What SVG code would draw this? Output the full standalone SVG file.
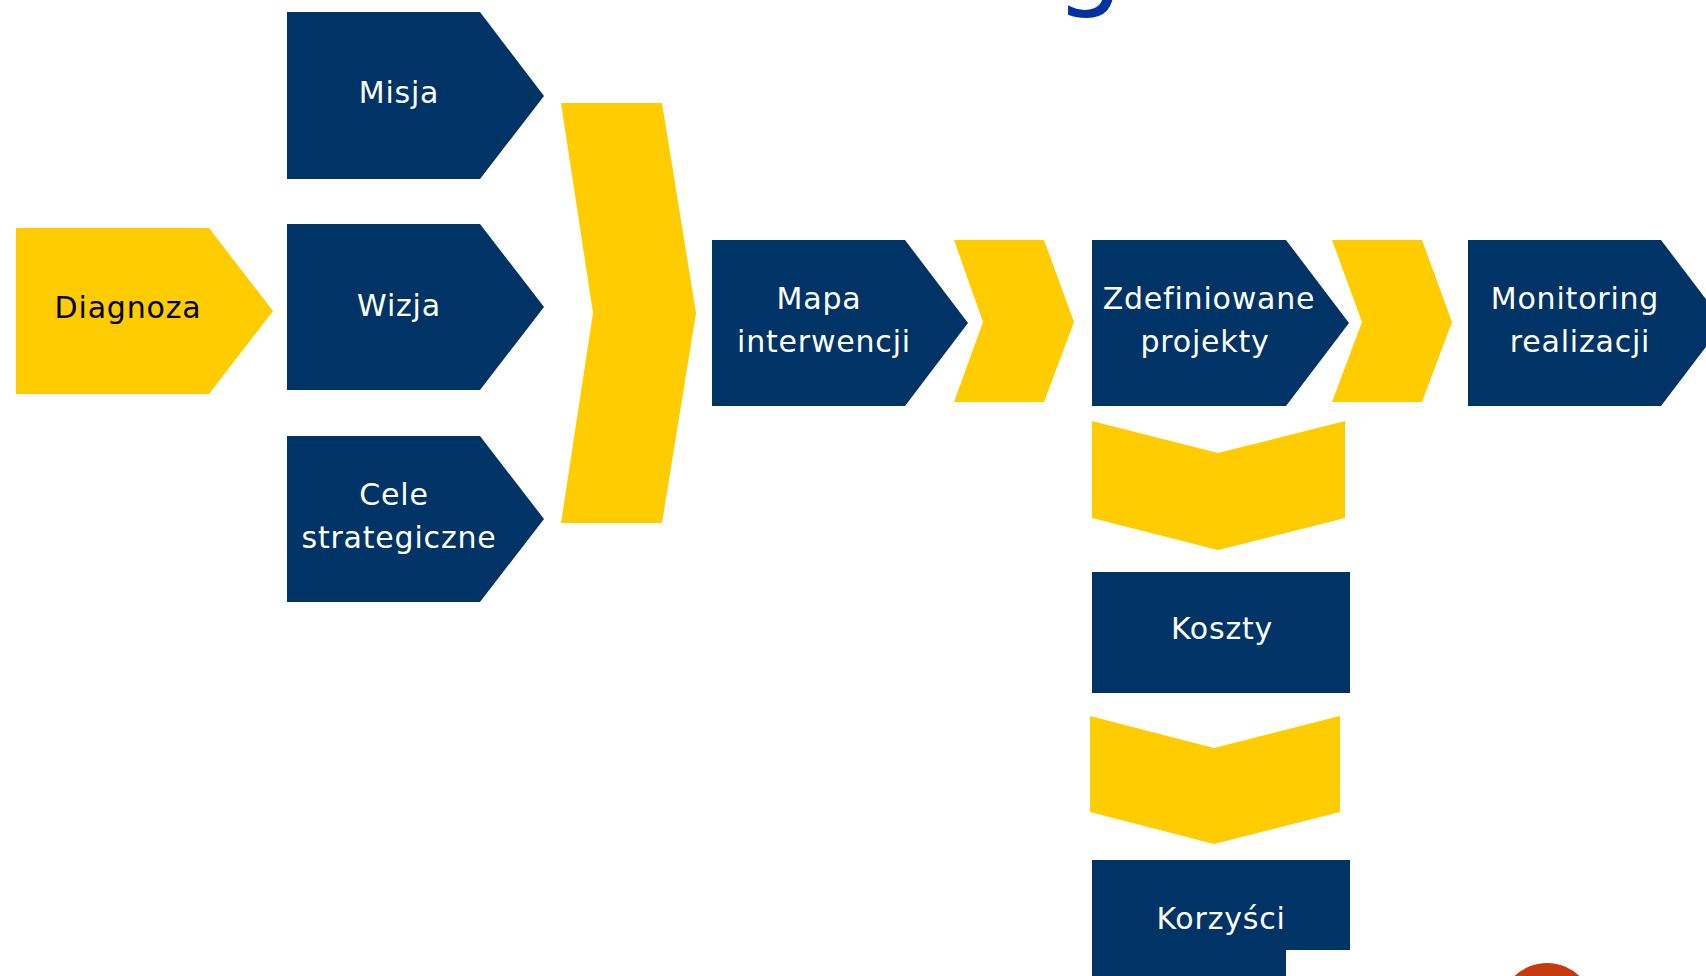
<svg xmlns="http://www.w3.org/2000/svg" width="1706" height="976" viewBox="0 0 1706 976">
<style>
.blue{fill:#003366}
.yel{fill:#FFCC00}
.lbl{font-family:"DejaVu Sans","Liberation Sans",sans-serif;font-size:30px;letter-spacing:0.8px;fill:#FFFFFF;text-anchor:middle}
</style>
<rect width="1706" height="976" fill="#FFFFFF"/>
<text x="1055" y="-5" font-family="DejaVu Sans, sans-serif" font-size="108" fill="#0033A0">g</text>
<g id="connectors">
<polygon id="c-big" class="yel" points="561,103 662,103 696,313 662,523 561,523 593,313"/>
<polygon id="c-mapa" class="yel" points="954,240 1044,240 1074,322 1044,402 954,402 983,322"/>
<polygon id="c-proj" class="yel" points="1332,240 1422,240 1452,322 1422,402 1332,402 1362,322"/>
<polygon id="c-down1" class="yel" points="1092,421 1218,453 1345,421 1345,518 1218,550 1092,518"/>
<polygon id="c-down2" class="yel" points="1090,716 1214,748 1340,716 1340,812 1214,844 1090,812"/>
</g>
<g id="diagnoza">
<polygon class="yel" points="16,228 209,228 273,311 209,394 16,394"/>
<text class="lbl" x="128" y="318" style="fill:#000">Diagnoza</text>
</g>
<g id="misja">
<polygon class="blue" points="287,12 480,12 544,96 480,179 287,179"/>
<text class="lbl" x="399" y="103">Misja</text>
</g>
<g id="wizja">
<polygon class="blue" points="287,224 480,224 544,307 480,390 287,390"/>
<text class="lbl" x="399" y="316">Wizja</text>
</g>
<g id="cele">
<polygon class="blue" points="287,436 480,436 544,519 480,602 287,602"/>
<text class="lbl" x="394" y="505">Cele</text>
<text class="lbl" x="399" y="548">strategiczne</text>
</g>
<g id="mapa">
<polygon class="blue" points="712,240 905,240 968,323 905,406 712,406"/>
<text class="lbl" x="819" y="309">Mapa</text>
<text class="lbl" x="824" y="352">interwencji</text>
</g>
<g id="projekty">
<polygon class="blue" points="1092,240 1286,240 1349,323 1286,406 1092,406"/>
<text class="lbl" x="1209" y="309">Zdefiniowane</text>
<text class="lbl" x="1205" y="352">projekty</text>
</g>
<g id="monitoring">
<polygon class="blue" points="1468,240 1661,240 1724,323 1661,406 1468,406"/>
<text class="lbl" x="1575" y="309">Monitoring</text>
<text class="lbl" x="1580" y="352">realizacji</text>
</g>
<g id="koszty">
<rect class="blue" x="1092" y="572" width="258" height="121"/>
<text class="lbl" x="1222" y="639">Koszty</text>
</g>
<g id="korzysci">
<polygon class="blue" points="1092,860 1350,860 1350,950 1286,950 1286,976 1092,976"/>
<text class="lbl" x="1221" y="929">Korzyści</text>
</g>
<g id="logo">
<circle cx="1547" cy="1010" r="47" fill="#C63A10"/>
</g>
</svg>
